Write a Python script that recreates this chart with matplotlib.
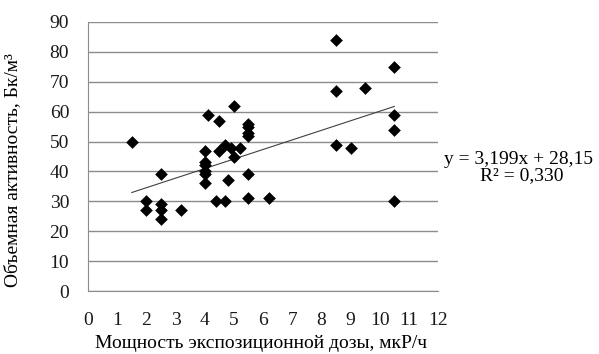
import matplotlib
matplotlib.use("Agg")
import matplotlib.pyplot as plt
import numpy as np

plt.rcParams['font.family'] = ['Liberation Serif', 'DejaVu Serif']

dose = [1.5, 2.0, 2.0, 2.5, 2.5, 2.5, 2.5, 3.2,
        4.0, 4.0, 4.0, 4.0, 4.0, 4.0, 4.1, 4.5, 5.0,
        4.5, 4.7, 4.9, 5.0, 5.2, 4.8,
        5.5, 5.5, 5.5, 5.5, 5.5,
        4.4, 4.7, 5.5, 6.2,
        8.5, 8.5, 8.5, 9.0, 9.5,
        10.5, 10.5, 10.5, 10.5]
activity = [50, 30, 27, 39, 29, 27, 24, 27,
            47, 43, 42, 40, 39, 36, 59, 57, 62,
            47, 49, 48, 45, 48, 37,
            56, 55, 53, 52, 39,
            30, 30, 31, 31,
            84, 67, 49, 48, 68,
            75, 59, 54, 30]

slope = 3.199
intercept = 28.15
eq_text = "y = 3,199x + 28,15"
r2_text = "R² = 0,330"
xlabel = "Мощность экспозиционной дозы, мкР/ч"
ylabel = "Объемная активность, Бк/м³"

FS = 14

fig = plt.figure(figsize=(5.99, 3.54), dpi=100)
ax = fig.add_axes([88/599, 1-291/354, 350/599, 269/354])

ax.scatter(dose, activity, marker='D', s=42, color='black', zorder=3, linewidths=0)
xl = np.array([min(dose), max(dose)])
ax.plot(xl, slope*xl + intercept, color='#404040', lw=0.8, zorder=2)

ax.set_xlim(0, 12)
ax.set_ylim(0, 90)
ax.set_xticks(range(0, 13))
ax.set_yticks(range(0, 91, 10))
ax.yaxis.grid(True, color='#8c8c8c', lw=1.0)
ax.set_axisbelow(True)
for s in ['top', 'right']:
    ax.spines[s].set_visible(False)
for s in ['left', 'bottom']:
    ax.spines[s].set_color('#8c8c8c')
ax.tick_params(length=0, labelsize=FS, colors='#1a1a1a')
ax.tick_params(axis='y', pad=13.5)
ax.tick_params(axis='x', pad=15)
ax.set_xlabel(xlabel, fontsize=FS)
ax.set_ylabel(ylabel, fontsize=FS)
ax.xaxis.set_label_coords(0.493, -0.165)
ax.yaxis.set_label_coords(-0.19, 0.45)

fig.text(518/599, 1-159/354, eq_text, ha='center', va='center', fontsize=FS)
fig.text(522/599, 1-176/354, r2_text, ha='center', va='center', fontsize=FS)

fig.savefig("out.png", dpi=100)
